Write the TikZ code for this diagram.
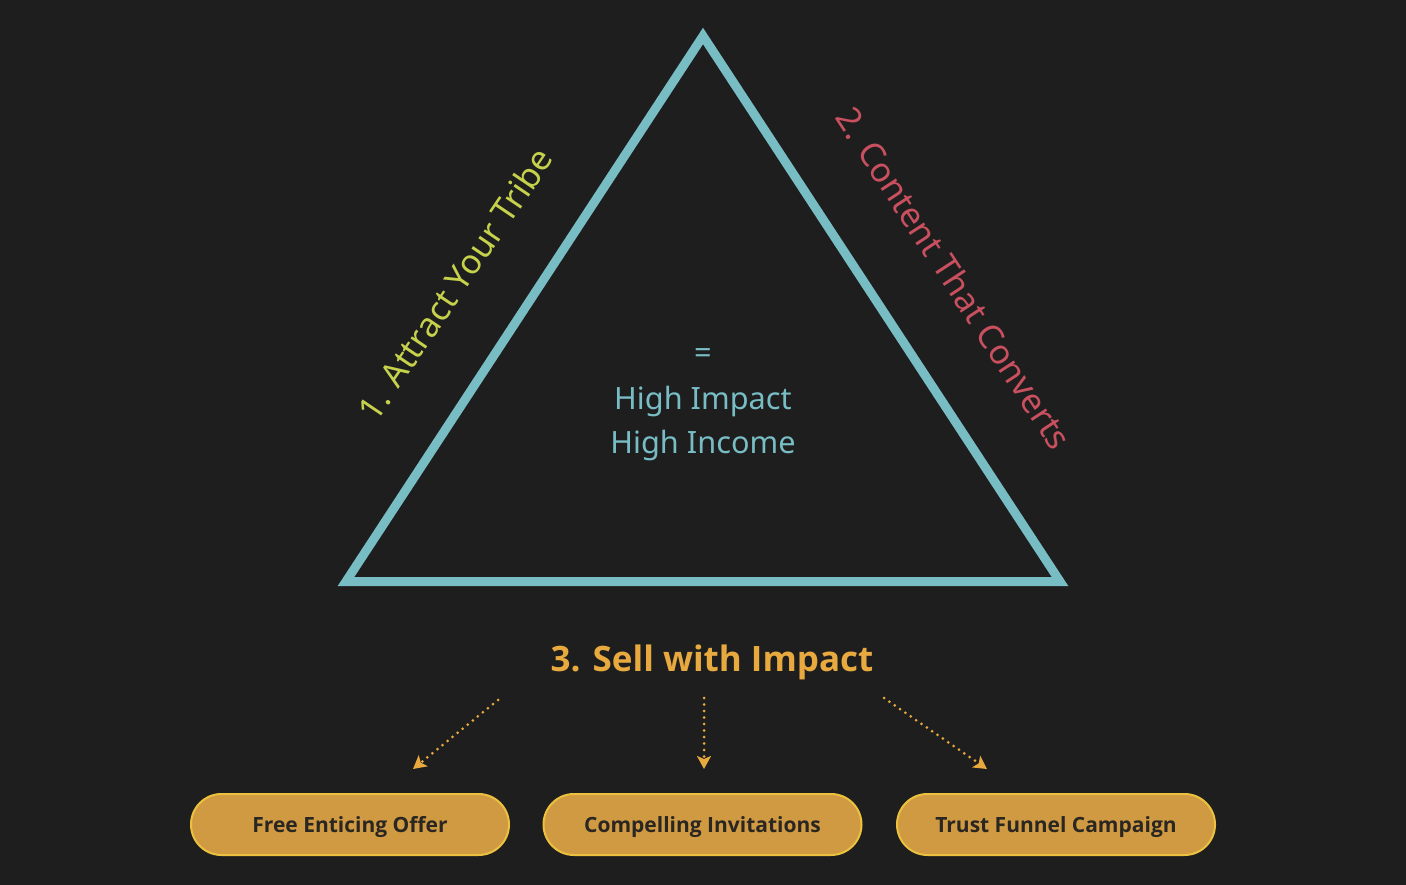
\documentclass[tikz,border=0pt]{standalone}
\usepackage{fontspec}
\setmainfont{Noto Sans}
\newfontfamily\boldsans{Open Sans}
\usetikzlibrary{arrows.meta}
\definecolor{bg}{HTML}{1E1E1E}
\definecolor{teal}{HTML}{78BCC4}
\definecolor{lime}{HTML}{C6D24C}
\definecolor{rose}{HTML}{C9505F}
\definecolor{gold}{HTML}{E8A93E}
\definecolor{pillfill}{HTML}{D09A42}
\definecolor{pillline}{HTML}{EBC13E}
\definecolor{darktext}{HTML}{2A2622}
\tikzset{
  pill/.style={draw=pillline, line width=2pt, fill=pillfill, rounded corners=30.5pt,
    minimum width=318pt, minimum height=61pt, inner sep=0pt,
    text height=15pt, text depth=0pt,
    font=\boldsans\bfseries\fontsize{21}{24}\selectfont, text=darktext},
  sidelabel/.style={font=\fontsize{34}{38}\selectfont, inner sep=0pt},
  centertext/.style={font=\fontsize{30.7}{44}\selectfont, text=teal, align=center, inner sep=0pt},
  dotarrow/.style={gold, line width=3pt, dash pattern=on 0pt off 6.5pt, line cap=round,
    -{Stealth[length=13pt, width=14pt, inset=3pt, line cap=butt]}}
}
\begin{document}
\begin{tikzpicture}[x=1pt, y=-1pt]
\fill[bg] (0,0) rectangle (1406,885);
\useasboundingbox (0,0) rectangle (1406,885);
% triangle
\coordinate (apex) at (703,36);
\coordinate (bl) at (346,581.5);
\coordinate (br) at (1060,581.5);
\draw[teal, line width=9pt, line join=miter] (apex) -- (bl) -- (br) -- cycle;
% side labels
\node[sidelabel, text=lime, rotate=56] (lab1) at (455,284) {1. Attract Your Tribe};
\node[sidelabel, text=rose, rotate=-56.8] (lab2) at (954,278) {2. Content That Converts};
% center text
\node[centertext] (eq) at (703,356.5) {=};
\node[centertext] (hi) at (703,423.5) {High Impact\\High Income};
% sell
\node[font=\boldsans\bfseries\fontsize{35}{40}\selectfont, text=gold, inner sep=0pt, text height=25pt, text depth=0pt] (sell) at (712,659) {3. Sell with Impact};
% pills
\node[pill] (p1) at (350,824.5) {Free Enticing Offer};
\node[pill] (p2) at (702.5,824.5) {Compelling Invitations};
\node[pill] (p3) at (1056,824.5) {Trust Funnel Campaign};
% arrows
\coordinate (s1) at (498,700);
\coordinate (e1) at (413,769);
\coordinate (s2) at (704,698);
\coordinate (e2) at (704,769);
\coordinate (s3) at (884,698);
\coordinate (e3) at (987,769);
\draw[dotarrow] (s1) -- (e1);
\draw[dotarrow] (s2) -- (e2);
\draw[dotarrow] (s3) -- (e3);
\end{tikzpicture}
\end{document}
